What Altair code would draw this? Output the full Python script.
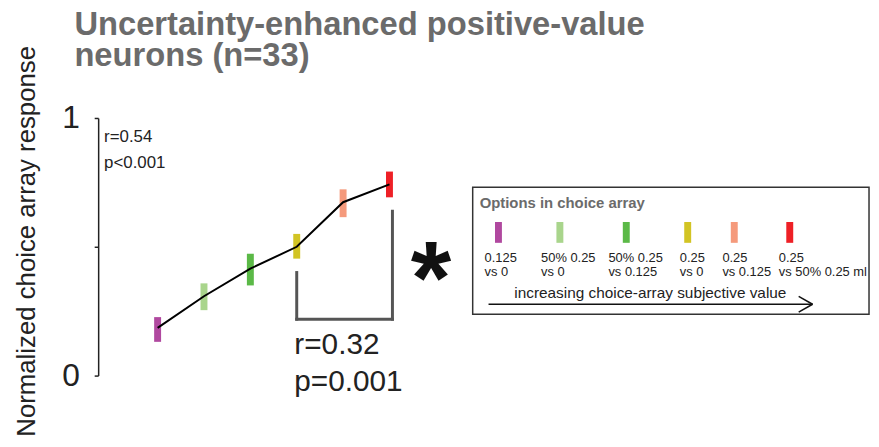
import altair as alt
import pandas as pd

# ---------------- data ----------------
options = ["0.125 vs 0", "50% 0.25 vs 0", "50% 0.25 vs 0.125",
           "0.25 vs 0", "0.25 vs 0.125", "0.25 vs 50% 0.25 ml"]
label_line1 = ["0.125", "50% 0.25", "50% 0.25", "0.25", "0.25", "0.25"]
label_line2 = ["vs 0", "vs 0", "vs 0.125", "vs 0", "vs 0.125", "vs 50% 0.25 ml"]
rank = [1, 2, 3, 4, 5, 6]
mean_resp = [0.185, 0.308, 0.415, 0.500, 0.673, 0.742]
err_low = [0.131, 0.254, 0.350, 0.454, 0.615, 0.692]
err_high = [0.227, 0.358, 0.473, 0.550, 0.723, 0.792]
colors = ["#b0489f", "#a9d58c", "#5bb947", "#d2c424", "#f59a7c", "#ee2026"]

overall_stats = ["r=0.54", "p<0.001"]
bracket_stats = ["r=0.32", "p=0.001"]
bracket_from, bracket_to = 4, 6          # compared conditions
bracket_low, bracket_left_top, bracket_right_top = 0.219, 0.40, 0.638

# ---------------- layout (pixels, relative to plot origin) ----------------
W, H = 780, 260
PAD = {"left": 91, "top": 109, "right": 0, "bottom": 62}
px_per_rank = 46.8
x_dom = [1 - 60 / px_per_rank, 1 - 60 / px_per_rank + W / px_per_rank]

leg_box = (378, 70, 778, 198)
leg_sym_x = [404, 466, 533, 595, 642, 698]
leg_lab_x = [390, 447, 515, 587, 630, 687]

FONT = "Liberation Sans"
TXT = "#222222"

df = pd.DataFrame({"rank": rank, "option": options, "mean": mean_resp,
                   "lo": err_low, "hi": err_high})

xs = alt.Scale(domain=x_dom, nice=False, zero=False)
ys = alt.Scale(domain=[0, 1], nice=False, zero=False)
cs = alt.Scale(domain=options, range=colors)

yaxis = alt.Axis(values=[0, 0.5, 1],
                 labelExpr="datum.value == 0.5 ? '' : format(datum.value, 'd')",
                 labelFont=FONT, labelFontSize=32, labelColor=TXT, labelPadding=15,
                 tickSize=4, tickColor=TXT, tickWidth=1.5,
                 domainColor=TXT, domainWidth=1.5, grid=False,
                 title="Normalized choice array response",
                 titleFont=FONT, titleFontSize=26, titleFontWeight="normal",
                 titleColor=TXT, titleX=-64, titleY=124, titleBaseline="alphabetic")

bars = alt.Chart(df).mark_rule(strokeWidth=7, strokeCap="butt").encode(
    x=alt.X("rank:Q", scale=xs, axis=None),
    y=alt.Y("lo:Q", scale=ys, axis=yaxis),
    y2="hi:Q",
    color=alt.Color("option:N", scale=cs, legend=None),
)

line = alt.Chart(df).mark_line(color="black", strokeWidth=2).encode(
    x=alt.X("rank:Q", scale=xs, axis=None),
    y=alt.Y("mean:Q", scale=ys, axis=yaxis),
)

bx_r = bracket_to + 3 / px_per_rank
br = pd.DataFrame({
    "x": [bracket_from, bracket_from, bx_r],
    "x2": [bracket_from, bx_r, bx_r],
    "y": [bracket_low, bracket_low, bracket_low],
    "y2": [bracket_left_top, bracket_low, bracket_right_top],
})
bracket = alt.Chart(br).mark_rule(color="#555555", strokeWidth=3, strokeCap="square").encode(
    x=alt.X("x:Q", scale=xs, axis=None), x2="x2:Q",
    y=alt.Y("y:Q", scale=ys, axis=yaxis), y2="y2:Q")

bs = pd.DataFrame({"t": bracket_stats, "px": [198, 198], "py": [238, 276]})
bstats = alt.Chart(bs).mark_text(font=FONT, fontSize=30, align="left",
                                 baseline="alphabetic", color=TXT).encode(
    x=alt.X("px:Q", scale=None, axis=None), y=alt.Y("py:Q", scale=None, axis=None), text="t:N")

os_ = pd.DataFrame({"t": overall_stats, "px": [6, 6], "py": [24, 50]})
ostats = alt.Chart(os_).mark_text(font=FONT, fontSize=17, align="left",
                                  baseline="alphabetic", color=TXT).encode(
    x=alt.X("px:Q", scale=None, axis=None), y=alt.Y("py:Q", scale=None, axis=None), text="t:N")

star = alt.Chart(pd.DataFrame({"t": ["*"]})).mark_text(
    font=FONT, fontSize=105, fontWeight="bold", align="center",
    baseline="alphabetic", color="#111111").encode(
    x=alt.value(336), y=alt.value(198), text="t:N")

# ---------------- custom legend ----------------
one = pd.DataFrame({"a": [0]})
box = alt.Chart(one).mark_rect(fill="white", stroke="#333333", strokeWidth=1.5).encode(
    x=alt.value(leg_box[0]), x2=alt.value(leg_box[2]),
    y=alt.value(leg_box[1]), y2=alt.value(leg_box[3]))

leg_title = alt.Chart(pd.DataFrame({"t": ["Options in choice array"]})).mark_text(
    font=FONT, fontSize=15, fontWeight="bold", color="#6b6b6b", align="left",
    baseline="alphabetic").encode(x=alt.value(385), y=alt.value(91), text="t:N")

ld = pd.DataFrame({"option": options, "sx": leg_sym_x, "lx": leg_lab_x,
                   "lab": [a + "\n" + b for a, b in zip(label_line1, label_line2)]})
ld["y1"] = 105
ld["y2"] = 126
ld["ly"] = 145
leg_sym = alt.Chart(ld).mark_rule(strokeWidth=7, strokeCap="butt").encode(
    x=alt.X("sx:Q", scale=None, axis=None),
    y=alt.Y("y1:Q", scale=None, axis=None), y2="y2:Q",
    color=alt.Color("option:N", scale=cs, legend=None))
leg_lab = alt.Chart(ld).mark_text(font=FONT, fontSize=13, align="left",
                                  baseline="alphabetic", lineBreak="\n",
                                  lineHeight=14, color=TXT).encode(
    x=alt.X("lx:Q", scale=None, axis=None), y=alt.Y("ly:Q", scale=None, axis=None),
    text="lab:N")

arrow_txt = alt.Chart(pd.DataFrame({"t": ["increasing choice-array subjective value"]})).mark_text(
    font=FONT, fontSize=15.5, align="left", baseline="alphabetic", color=TXT).encode(
    x=alt.value(420), y=alt.value(182), text="t:N")

arr = pd.DataFrame({"x": [394, 707, 707], "x2": [721, 721, 721],
                    "y": [188, 180, 196], "y2": [188, 188, 188]})
arrow = alt.Chart(arr).mark_rule(color="#111111", strokeWidth=1.5).encode(
    x=alt.X("x:Q", scale=None, axis=None), x2="x2:Q",
    y=alt.Y("y:Q", scale=None, axis=None), y2="y2:Q")

chart = alt.layer(
    bars, line, bracket, bstats, ostats, star,
    box, leg_title, leg_sym, leg_lab, arrow_txt, arrow,
).properties(
    width=W, height=H,
    autosize=alt.AutoSizeParams(type="none"),
    padding=PAD,
    title=alt.TitleParams(
        text=["Uncertainty-enhanced positive-value", "neurons (n=33)"],
        anchor="start", frame="group", dx=-24, dy=66, offset=38,
        font=FONT, fontSize=33, fontWeight="bold", color="#6b6b6b",
        lineHeight=31, baseline="top"),
).configure(
    background="white",
    view=alt.ViewConfig(stroke="transparent", strokeWidth=0),
    axis=alt.AxisConfig(grid=False),
)

chart.save("out.html", embed_options={"renderer": "svg", "actions": False})
